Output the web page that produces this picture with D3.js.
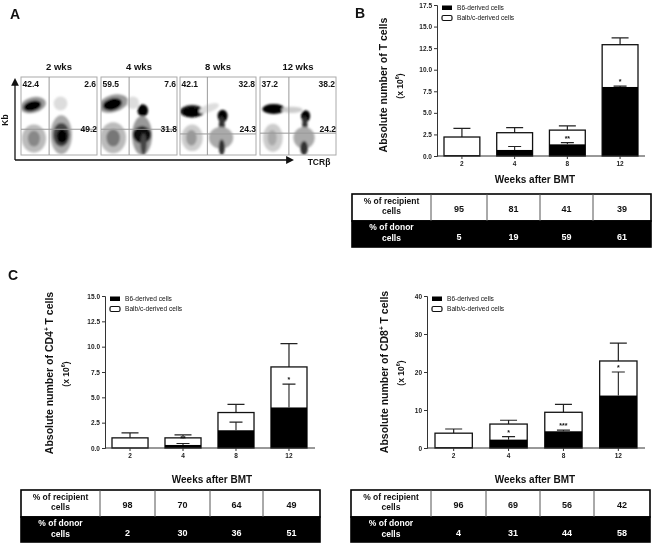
<!DOCTYPE html>
<html>
<head>
<meta charset="utf-8">
<script src="https://cdn.jsdelivr.net/npm/d3@7"></script>
<style>
  html, body { margin: 0; padding: 0; background: #fff; }
  svg { display: block; font-family: "Liberation Sans", Arial, sans-serif; font-weight: bold; fill: #111; }
  #figure { filter: blur(0.45px); }
</style>
</head>
<body>
<svg id="figure" width="652" height="545"></svg>
<script>
const weeks = ['2', '4', '8', '12'];
const legendLabels = ['B6-derived cells', 'Balb/c-derived cells'];

// panel B
const tcellBlack = [0.1, 0.7, 1.35, 8.0];
const tcellTotal = [2.2, 2.7, 3.0, 12.9];
const tcellTotalErr = [3.2, 3.3, 3.5, 13.7];
const tcellBlackErr = [null, 1.1, 1.55, 8.1];
const tcellStars = ['', '', '**', '*'];
const tcellTicks = [0, 2.5, 5, 7.5, 10, 12.5, 15, 17.5];
const tcellRecipient = [95, 81, 41, 39];
const tcellDonor = [5, 19, 59, 61];

// panel C, CD4
const cd4Black = [0, 0.3, 1.75, 4.0];
const cd4Total = [1.0, 1.0, 3.5, 8.0];
const cd4TotalErr = [1.5, 1.3, 4.3, 10.3];
const cd4BlackErr = [null, 0.45, 2.55, 6.3];
const cd4Stars = ['', '**', '', '*'];
const cd4Ticks = [0, 2.5, 5, 7.5, 10, 12.5, 15];
const cd4Recipient = [98, 70, 64, 49];
const cd4Donor = [2, 30, 36, 51];

// panel C, CD8
const cd8Black = [0.2, 2.2, 4.4, 13.8];
const cd8Total = [3.9, 6.3, 9.4, 22.9];
const cd8TotalErr = [5.0, 7.3, 11.5, 27.6];
const cd8BlackErr = [null, 3.0, 4.7, 20];
const cd8Stars = ['', '*', '***', '*'];
const cd8Ticks = [0, 10, 20, 30, 40];
const cd8Recipient = [96, 69, 56, 42];
const cd8Donor = [4, 31, 44, 58];

// panel A, flow plots. Each blob: [TCRb, Kb, spreadX, spreadY, tilt, grey]
const flowTitles = ['2 wks', '4 wks', '8 wks', '12 wks'];
const flowPercents = [
  ['42.4', '2.6', '49.2'],
  ['59.5', '7.6', '31.8'],
  ['42.1', '32.8', '24.3'],
  ['37.2', '38.2', '24.2']
];
const flowBlobs2 = [
  [17, 21, 16, 18, 0, '#bbb'], [17, 21, 8, 10, 0, '#888'],
  [52, 66, 9, 9, 0, '#ddd'],
  [16, 64, 17, 10, -15, '#999'], [15, 63, 12, 6.5, -15, '#000'],
  [53, 26, 14, 25, 0, '#aaa'], [53, 26, 11, 15, 0, '#444'], [54, 24, 7, 9, 0, '#000']
];
const flowBlobs4 = [
  [16, 22, 17, 20, 0, '#bbb'], [16, 22, 9, 11, 0, '#777'],
  [16, 66, 20, 11, -15, '#999'], [15, 65, 13, 7.5, -15, '#000'],
  [42, 67, 8, 8, 0, '#ddd'],
  [55, 57, 7, 8, 0, '#000'],
  [54, 25, 13, 25, 0, '#999'], [54, 26, 12, 11, 0, '#111'], [56, 14, 4, 14, 0, '#444']
];
const flowBlobs8 = [
  [16, 22, 14, 17, 0, '#ccc'], [15, 22, 7, 10, 0, '#999'],
  [16, 56, 16, 8, 0, '#222'], [15, 55, 12, 6.5, 0, '#000'],
  [38, 60, 14, 5, -20, '#ddd'],
  [56, 50, 6.5, 8, 0, '#000'], [55, 36, 4, 14, 0, '#333'],
  [54, 24, 12, 10, 0, '#000'], [54, 22, 16, 14, 0, '#aaa'], [55, 10, 4, 10, 0, '#333']
];
const flowBlobs12 = [
  [17, 22, 13, 18, 0, '#ccc'], [16, 22, 6, 10, 0, '#aaa'],
  [18, 59, 15, 6.5, 0, '#000'],
  [42, 58, 14, 4, 0, '#ccc'],
  [60, 50, 6, 7.5, 0, '#000'], [59, 38, 3.5, 12, 0, '#333'],
  [58, 24, 9, 11, 0, '#000'], [58, 22, 14, 14, 0, '#aaa'], [58, 9, 5, 9, 0, '#333']
];
const flowBlobs = [flowBlobs2, flowBlobs4, flowBlobs8, flowBlobs12];
const flowLeft = [21, 101, 180, 260];
const flowSplitX = [37, 37, 36, 38];
const flowSplitY = [33, 33, 27, 28];

const svg = d3.select('#figure');

const defs = svg.append('defs');
defs.append('filter').attr('id', 'soft')
  .attr('x', '-40%').attr('y', '-40%').attr('width', '180%').attr('height', '180%')
  .append('feGaussianBlur').attr('stdDeviation', 1.3);
const arrow = defs.append('marker').attr('id', 'arrow')
  .attr('viewBox', '0 0 8 8').attr('refX', 6).attr('refY', 4)
  .attr('markerWidth', 6).attr('markerHeight', 6).attr('orient', 'auto');
arrow.append('path').attr('d', 'M0,0L8,4L0,8Z').attr('fill', '#111');

function label(x, y, text, size, anchor) {
  return svg.append('text')
    .attr('x', x).attr('y', y)
    .attr('font-size', size)
    .attr('text-anchor', anchor || 'middle')
    .attr('dominant-baseline', 'middle')
    .text(text);
}

function rotatedLabel(x, y, text, size) {
  return label(0, 0, text, size).attr('transform', `translate(${x},${y}) rotate(-90)`);
}

// Panel A
function drawFlow(i) {
  const x0 = flowLeft[i];
  const top = 77, bottom = 155;
  const x = d3.scaleLinear().domain([0, 100]).range([x0, x0 + 76]);
  const y = d3.scaleLinear().domain([0, 100]).range([bottom, top]);
  const clipId = 'flow' + i;
  defs.append('clipPath').attr('id', clipId).append('rect')
    .attr('x', x0).attr('y', top).attr('width', 76).attr('height', bottom - top);

  const g = svg.append('g').attr('clip-path', `url(#${clipId})`);
  g.append('g').attr('filter', 'url(#soft)')
    .selectAll('ellipse').data(flowBlobs[i]).enter().append('ellipse')
    .attr('cx', 0).attr('cy', 0)
    .attr('rx', (d) => x(d[2]) - x(0))
    .attr('ry', (d) => y(0) - y(d[3]))
    .attr('transform', (d) => `translate(${x(d[0])},${y(d[1])}) rotate(${d[4]})`)
    .attr('fill', (d) => d[5]);

  svg.append('rect').attr('x', x0).attr('y', top).attr('width', 76).attr('height', bottom - top)
    .attr('fill', 'none').attr('stroke', '#aaa').attr('stroke-width', 1);
  svg.append('line').attr('x1', x(flowSplitX[i])).attr('x2', x(flowSplitX[i]))
    .attr('y1', top).attr('y2', bottom).attr('stroke', '#999');
  svg.append('line').attr('x1', x0).attr('x2', x0 + 76)
    .attr('y1', y(flowSplitY[i])).attr('y2', y(flowSplitY[i])).attr('stroke', '#999');

  label(x0 + 38, 67, flowTitles[i], 9.5);
  label(x0 + 1.5, 85, flowPercents[i][0], 8.5, 'start');
  label(x0 + 75, 85, flowPercents[i][1], 8.5, 'end');
  label(x0 + 76, 130, flowPercents[i][2], 8.5, 'end');
}

weeks.forEach((w, i) => drawFlow(i));

svg.append('line').attr('x1', 15).attr('x2', 15).attr('y1', 160).attr('y2', 80)
  .attr('stroke', '#111').attr('stroke-width', 1.3).attr('marker-end', 'url(#arrow)');
svg.append('line').attr('x1', 15).attr('x2', 292).attr('y1', 160).attr('y2', 160)
  .attr('stroke', '#111').attr('stroke-width', 1.3).attr('marker-end', 'url(#arrow)');
rotatedLabel(6, 120, 'Kb', 8.5);
label(319, 163, 'TCRβ', 8.5);

// Bar panels
function drawBars(opts) {
  const x = d3.scaleBand().domain(weeks).range([opts.barLeft, opts.barRight]).paddingInner(0.32);
  const y = d3.scaleLinear().domain(opts.domain).range([opts.y0, opts.y1]);
  const bw = x.bandwidth();
  const g = svg.append('g');

  // error bars of the stacked total
  g.selectAll('.err-total').data(weeks).enter().append('path')
    .attr('d', (w, i) => {
      const cx = x(w) + bw / 2;
      return `M${cx},${y(opts.total[i])}V${y(opts.totalErr[i])}M${cx - 8.5},${y(opts.totalErr[i])}H${cx + 8.5}`;
    })
    .attr('fill', 'none').attr('stroke', '#222').attr('stroke-width', 1.2);

  g.selectAll('.total').data(weeks).enter().append('rect')
    .attr('x', (w) => x(w))
    .attr('y', (w, i) => y(opts.total[i]))
    .attr('width', bw)
    .attr('height', (w, i) => y(0) - y(opts.total[i]))
    .attr('fill', '#fff').attr('stroke', '#111').attr('stroke-width', 1.3);

  g.selectAll('.black').data(weeks).enter().append('rect')
    .attr('x', (w) => x(w))
    .attr('y', (w, i) => y(opts.black[i]))
    .attr('width', bw)
    .attr('height', (w, i) => y(0) - y(opts.black[i]))
    .attr('fill', '#000');

  g.selectAll('.err-black').data(weeks.filter((w, i) => opts.blackErr[i] !== null)).enter().append('path')
    .attr('d', (w) => {
      const i = weeks.indexOf(w);
      const cx = x(w) + bw / 2;
      return `M${cx},${y(opts.black[i])}V${y(opts.blackErr[i])}M${cx - 6.5},${y(opts.blackErr[i])}H${cx + 6.5}`;
    })
    .attr('fill', 'none').attr('stroke', '#222').attr('stroke-width', 1.1);

  // significance stars sit just above the black error bars
  g.selectAll('.star').data(weeks).enter().append('text')
    .attr('x', (w) => x(w) + bw / 2)
    .attr('y', (w, i) => y(opts.blackErr[i] === null ? 0 : opts.blackErr[i]) - 2)
    .attr('text-anchor', 'middle')
    .attr('font-size', 7)
    .text((w, i) => opts.stars[i]);

  const yAxis = d3.axisLeft(y).tickValues(opts.ticks).tickFormat(d3.format(opts.format)).tickSize(3).tickPadding(2);
  const axisY = g.append('g').attr('transform', `translate(${opts.axisX},0)`).call(yAxis);
  axisY.selectAll('text').attr('font-size', 6.5).attr('font-family', 'inherit').attr('fill', '#222');
  axisY.selectAll('path,line').attr('stroke', '#333').attr('stroke-width', 1);

  const xAxis = d3.axisBottom(x).tickSize(3).tickPadding(2);
  const axisX = g.append('g').attr('transform', `translate(0,${y(0)})`).call(xAxis);
  axisX.select('.domain').attr('d', `M${opts.axisX},0H${opts.axisEnd}`).attr('stroke', '#333').attr('stroke-width', 1);
  axisX.selectAll('line').attr('stroke', '#333');
  axisX.selectAll('text').attr('font-size', 6.5).attr('font-family', 'inherit').attr('fill', '#222');

  // legend
  legendLabels.forEach((text, i) => {
    const ly = opts.legendY + i * 10;
    svg.append('rect').attr('x', opts.legendX).attr('y', ly - 2.5)
      .attr('width', 10).attr('height', i === 0 ? 4.5 : 5)
      .attr('rx', i === 0 ? 0 : 1.5)
      .attr('fill', i === 0 ? '#000' : '#fff').attr('stroke', '#111').attr('stroke-width', i === 0 ? 0 : 1.2);
    label(opts.legendX + 15, ly, text, 6.6, 'start').attr('font-weight', 'normal');
  });

  // axis titles
  const t = rotatedLabel(opts.titleX, opts.titleY, '', opts.titleSize);
  t.append('tspan').text(opts.title[0]);
  if (opts.title[1]) {
    t.append('tspan').attr('font-size', opts.titleSize * 0.6).attr('dy', -3).text(opts.title[1]);
    t.append('tspan').attr('dy', 3).text(opts.title[2]);
  }
  const u = rotatedLabel(opts.titleX + 17, opts.titleY + 1, '(x 10', 8.5);
  u.append('tspan').attr('font-size', 5.5).attr('dy', -3).text('6');
  u.append('tspan').attr('dy', 3).text(')');
  label(opts.weeksX, opts.weeksY, 'Weeks after BMT', 10);
}

// Percent tables below the bar panels
function drawTable(opts) {
  const w = opts.right - opts.left;
  svg.append('rect').attr('x', opts.left).attr('y', opts.top).attr('width', w).attr('height', opts.mid - opts.top)
    .attr('fill', '#fff').attr('stroke', '#000').attr('stroke-width', 1.6);
  svg.append('rect').attr('x', opts.left).attr('y', opts.mid).attr('width', w).attr('height', opts.bottom - opts.mid)
    .attr('fill', '#000').attr('stroke', '#000').attr('stroke-width', 1.6);
  opts.seps.slice(0, 4).forEach((sx) => {
    svg.append('line').attr('x1', sx).attr('x2', sx).attr('y1', opts.top).attr('y2', opts.mid)
      .attr('stroke', '#555').attr('stroke-width', 1);
  });
  const firstX = (opts.left + opts.seps[0]) / 2;
  const edges = opts.seps.concat([opts.right]);
  label(firstX, opts.top + 7.5, '% of recipient', 8.5);
  label(firstX, opts.top + 18, 'cells', 8.5);
  label(firstX, opts.mid + 7, '% of donor', 8.5).attr('fill', '#fff');
  label(firstX, opts.mid + 18, 'cells', 8.5).attr('fill', '#fff');
  weeks.forEach((week, i) => {
    const cx = (edges[i] + edges[i + 1]) / 2;
    label(cx, opts.top + 16, opts.recipient[i], 9);
    label(cx, opts.mid + 17, opts.donor[i], 9).attr('fill', '#fff');
  });
}

drawBars({
  black: tcellBlack, total: tcellTotal, totalErr: tcellTotalErr, blackErr: tcellBlackErr, stars: tcellStars,
  domain: [0, 17.5], ticks: tcellTicks, format: '.1f',
  y0: 156, y1: 5, axisX: 437, axisEnd: 645, barLeft: 444, barRight: 638,
  legendX: 442, legendY: 8,
  title: ['Absolute number of T cells'], titleX: 384, titleY: 85, titleSize: 10.5,
  weeksX: 535, weeksY: 180
});
drawTable({
  left: 352, right: 651, top: 194, mid: 221, bottom: 247,
  seps: [431, 487, 540, 593], recipient: tcellRecipient, donor: tcellDonor
});

drawBars({
  black: cd4Black, total: cd4Total, totalErr: cd4TotalErr, blackErr: cd4BlackErr, stars: cd4Stars,
  domain: [0, 15], ticks: cd4Ticks, format: '.1f',
  y0: 448, y1: 296, axisX: 105, axisEnd: 315, barLeft: 112, barRight: 307,
  legendX: 110, legendY: 299,
  title: ['Absolute number of CD4', '+', ' T cells'], titleX: 50, titleY: 373, titleSize: 10.5,
  weeksX: 212, weeksY: 480
});
drawTable({
  left: 21, right: 320, top: 490, mid: 517, bottom: 542,
  seps: [100, 155, 210, 263], recipient: cd4Recipient, donor: cd4Donor
});

drawBars({
  black: cd8Black, total: cd8Total, totalErr: cd8TotalErr, blackErr: cd8BlackErr, stars: cd8Stars,
  domain: [0, 40], ticks: cd8Ticks, format: 'd',
  y0: 448, y1: 296, axisX: 427, axisEnd: 645, barLeft: 435, barRight: 637,
  legendX: 432, legendY: 299,
  title: ['Absolute number of CD8', '+', ' T cells'], titleX: 385, titleY: 372, titleSize: 10.5,
  weeksX: 535, weeksY: 480
});
drawTable({
  left: 351, right: 650, top: 490, mid: 517, bottom: 542,
  seps: [431, 486, 540, 594], recipient: cd8Recipient, donor: cd8Donor
});

// panel letters
label(15, 15, 'A', 14);
label(360, 14, 'B', 14);
label(13, 276, 'C', 14);
</script>
</body>
</html>
